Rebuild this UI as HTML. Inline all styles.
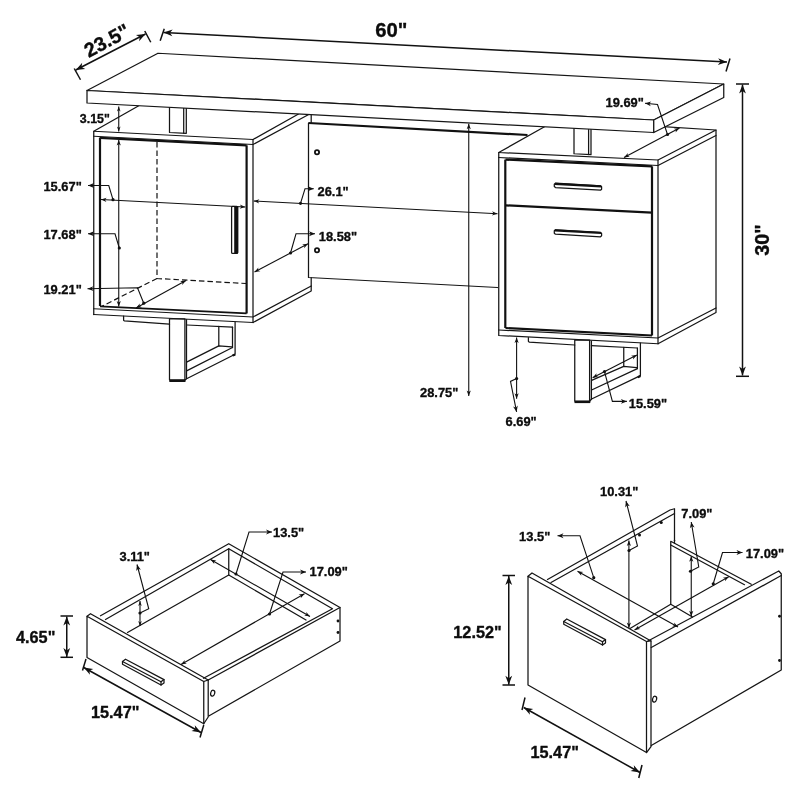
<!DOCTYPE html>
<html><head><meta charset="utf-8"><title>Desk dimensions</title>
<style>
html,body{margin:0;padding:0;background:#fff;}
body{width:800px;height:800px;overflow:hidden;}
svg{display:block;will-change:transform;opacity:0.999;}
svg text{font-family:"Liberation Sans",Arial,Helvetica,sans-serif;font-weight:bold;fill:#0c0c0c;stroke:#0c0c0c;stroke-width:0.35px;stroke-linejoin:round;}
.o{fill:none;stroke:#151515;stroke-width:1.25;stroke-linejoin:round;stroke-linecap:round;}
.w{fill:#fff;stroke:#151515;stroke-width:1.25;stroke-linejoin:round;}
.t{fill:none;stroke:#111;stroke-width:2.2;stroke-linecap:butt;}
.t2{fill:none;stroke:#111;stroke-width:2.2;}
.t15{fill:none;stroke:#111;stroke-width:1.8;}
.d{fill:none;stroke:#111;stroke-width:1.1;}
.D{fill:none;stroke:#111;stroke-width:1.5;}
.h{fill:none;stroke:#111;stroke-width:1.2;stroke-dasharray:5.5 3;}
.ah{fill:#111;stroke:none;}
.hole2{fill:#fff;stroke:#111;stroke-width:1.2;}
.hole{fill:#fff;stroke:#111;stroke-width:1.8;}
</style></head><body>
<svg width="800" height="800" viewBox="0 0 800 800">
<rect x="0" y="0" width="800" height="800" fill="#fff"/>
<path class="o" d="M308.5 123 L308.5 277.5 L497.5 287.5"/>
<path class="t" d="M308.5 123 L527.5 135"/>
<circle class="hole" cx="317" cy="152.2" r="2.1"/>
<circle class="hole" cx="317" cy="250.2" r="2.1"/>
<path class="o" d="M138.75 105.694 L93.75 131.25 L253 139.5 L298.5 114.009"/>
<path class="o" d="M93.75 131.25 L93.75 314.5"/>
<path class="o" d="M93.75 136.25 L253 144.5 L308.7 114.54"/>
<path class="o" d="M253 139.5 L253 322.5"/>
<path class="o" d="M311.2 114.67 L311.2 123.2"/>
<path class="o" d="M311.2 277.7 L311.2 291 L253 322.5 L93.75 314.5"/>
<path class="o" d="M93.75 308.75 L253 317 L311.2 286"/>
<path class="t" d="M100 306 L100 137.5"/>
<path class="t" d="M100 137.8 L246.6 145.3"/>
<path class="t" d="M246.6 145.3 L246.6 313.5"/>
<path class="t15" d="M100 306.3 L246.6 313.3"/>
<rect class="w" x="231.6" y="206.4" width="6.1" height="47" rx="1"/>
<rect class="ah" x="234.2" y="206.4" width="3.9" height="47.2" rx="0.8"/>
<path class="h" d="M157 142 L157 278.5 L246 283.5"/>
<path class="h" d="M157 278.5 L101.5 306.5"/>
<path class="o" d="M169.5 107.294 L169.5 132.5 L186.3 133.3 L186.3 108.169"/>
<line class="o" x1="183.7" y1="108.033" x2="183.7" y2="133.2"/>
<path class="o" d="M123.6 316.1 L123.6 320.2 L124.3 320.9 L169.5 324.2"/>
<path class="o" d="M187 325 L232.5 327.2"/>
<rect class="o" x="169.5" y="318.9" width="15.4" height="60.9"/>
<line class="t" x1="169.3" y1="380.9" x2="185.5" y2="380.9"/>
<path class="o" d="M186.5 319.6 L186.5 378.6"/>
<path class="o" d="M186.6 362.1 L218.8 345.9 L231.8 346.9"/>
<path class="o" d="M186.6 370.9 L232.5 347.5"/>
<path class="o" d="M185 380 L186.6 378.8 L235.1 354.3 L235.1 322"/>
<path class="o" d="M218.8 326.3 L218.8 345.9"/>
<path class="o" d="M232.5 327.2 L232.5 347.5"/>
<line class="t" x1="232.6" y1="355.6" x2="235.2" y2="354.4"/>
<path class="o" d="M544.5 126.813 L498.75 152.5 L658 160 L716 130 L655 126.1"/>
<path class="o" d="M498.75 152.5 L498.75 335.5 L658 343.75 L716 312.5 L716 130"/>
<path class="o" d="M498.75 157.5 L658 165.5 L716 135.5"/>
<path class="o" d="M658 160 L658 343.75"/>
<path class="o" d="M498.75 330 L658 338 L716 308"/>
<path class="t" d="M505.3 159.6 L505.3 328"/>
<path class="t2" d="M505.5 159.6 L652 166.3"/>
<path class="t" d="M652 166.3 L652 335.5"/>
<path class="t2" d="M505.5 205.3 L652 212.7"/>
<path class="t" d="M505.5 328 L652 335.5"/>
<path class="w" d="M555.5 183.2 L600.5 185.8 L601.6 186.8 L601.6 189.2 L600.5 190.2 L555.5 187.6 L554.3 186.6 L554.3 184.2 Z"/>
<path class="t" d="M554.8 183.8 L601.2 186.4"/>
<path class="w" d="M555.5 229.8 L600.5 232.4 L601.6 233.4 L601.6 235.8 L600.5 236.8 L555.5 234.2 L554.3 233.2 L554.3 230.8 Z"/>
<path class="t" d="M554.8 230.4 L601.2 233"/>
<path class="o" d="M574 128.349 L574 153.75 L591 154.6 L591 129.234"/>
<line class="o" x1="588.6" y1="129.109" x2="588.6" y2="154.5"/>
<path class="o" d="M528.4 337.5 L528.4 341.3 L529.2 342.1 L574.75 345"/>
<path class="o" d="M591.4 345.7 L637.4 348"/>
<rect class="o" x="574.75" y="340.1" width="14.85" height="60.9"/>
<line class="t" x1="574.5" y1="402" x2="590.3" y2="402"/>
<path class="o" d="M591.4 341 L591.4 399.2"/>
<path class="o" d="M591.6 380.4 L623.75 366.4 L636.6 367.6"/>
<path class="o" d="M591.6 390 L637.4 368.6"/>
<path class="o" d="M589.8 401 L591.6 399 L640.4 375.6 L640.4 343"/>
<path class="o" d="M623.75 347.3 L623.75 366.4"/>
<path class="o" d="M637.4 348 L637.4 368.6"/>
<line class="t" x1="637.8" y1="377.2" x2="640.5" y2="376"/>
<path class="w" d="M87 90.5 L158 53.25 L723.75 84 L653.75 120 Z"/>
<path class="w" d="M87 90.5 L87 103 L653.75 132.5 L653.75 120 Z"/>
<path class="w" d="M653.75 120 L653.75 132.5 L723.75 97.5 L723.75 84 Z"/>
<line class="D" x1="75.75" y1="70" x2="145.5" y2="34"/>
<polygon class="ah" points="145.50,34.00 139.06,41.15 139.74,36.97 135.94,35.11"/>
<polygon class="ah" points="75.75,70.00 82.19,62.85 81.51,67.03 85.31,68.89"/>
<line class="D" x1="74.25" y1="68.5" x2="80.5" y2="79.75"/>
<line class="D" x1="144.75" y1="31" x2="150.75" y2="42.25"/>
<text transform="translate(110 46.7) rotate(-28) scale(1.0 1)" font-size="20" text-anchor="middle">23.5"</text>
<line class="D" x1="163.5" y1="32.5" x2="727" y2="62"/>
<polygon class="ah" points="727.00,62.00 717.83,64.92 720.53,61.66 718.19,58.13"/>
<polygon class="ah" points="163.50,32.50 172.67,29.58 169.97,32.84 172.31,36.37"/>
<line class="D" x1="164.25" y1="28.75" x2="160.2" y2="40.75"/>
<line class="D" x1="730" y1="58.5" x2="726" y2="71.5"/>
<text transform="translate(375.2 37.2) scale(1.0 1)" font-size="20.3" text-anchor="start">60"</text>
<line class="D" x1="742.5" y1="84.5" x2="742.5" y2="375.5"/>
<polygon class="ah" points="742.50,375.50 739.10,366.50 742.50,369.02 745.90,366.50"/>
<polygon class="ah" points="742.50,84.50 745.90,93.50 742.50,90.98 739.10,93.50"/>
<line class="D" x1="736" y1="84" x2="749" y2="84"/>
<line class="D" x1="736" y1="376.3" x2="749" y2="376.3"/>
<text transform="translate(768.8 240) rotate(-90) scale(1.0 1)" font-size="19.8" text-anchor="middle">30"</text>
<line class="d" x1="118.75" y1="106.5" x2="118.75" y2="131.5"/>
<polygon class="ah" points="118.75,131.50 116.95,126.50 118.75,127.90 120.55,126.50"/>
<polygon class="ah" points="118.75,106.50 120.55,111.50 118.75,110.10 116.95,111.50"/>
<text transform="translate(79.8 122.5) scale(0.955 1)" font-size="13" text-anchor="start">3.15"</text>
<line class="d" x1="118.75" y1="140" x2="118.75" y2="306.5"/>
<polygon class="ah" points="118.75,306.50 116.65,301.00 118.75,302.54 120.85,301.00"/>
<polygon class="ah" points="118.75,140.00 120.85,145.50 118.75,143.96 116.65,145.50"/>
<path class="d" d="M88 233.75 L115 233.75 L119.3 248"/>
<polygon class="ah" points="88.00,233.75 94.00,231.35 92.32,233.75 94.00,236.15"/>
<circle class="ah" cx="119.3" cy="248" r="1.6"/>
<text transform="translate(43.4 238.5) scale(0.955 1)" font-size="13.5" text-anchor="start">17.68"</text>
<line class="d" x1="101" y1="199.5" x2="245.3" y2="207"/>
<polygon class="ah" points="245.30,207.00 239.70,208.81 241.35,206.79 239.92,204.62"/>
<polygon class="ah" points="101.00,199.50 106.60,197.69 104.95,199.71 106.38,201.88"/>
<path class="d" d="M88 185.5 L108.75 185.5 L113 199.7"/>
<polygon class="ah" points="88.00,185.50 94.00,183.10 92.32,185.50 94.00,187.90"/>
<circle class="ah" cx="113" cy="199.7" r="1.6"/>
<text transform="translate(43.4 190.5) scale(0.955 1)" font-size="13.5" text-anchor="start">15.67"</text>
<line class="d" x1="136" y1="308" x2="186" y2="280.5"/>
<polygon class="ah" points="186.00,280.50 182.19,284.99 182.53,282.41 180.17,281.31"/>
<polygon class="ah" points="136.00,308.00 139.81,303.51 139.47,306.09 141.83,307.19"/>
<path class="d" d="M87.5 288.7 L137.5 287.7 L143.75 303.2"/>
<polygon class="ah" points="87.50,288.70 93.45,286.18 91.82,288.61 93.55,290.98"/>
<circle class="ah" cx="143.75" cy="303.2" r="1.6"/>
<text transform="translate(43.4 294) scale(0.955 1)" font-size="13.5" text-anchor="start">19.21"</text>
<line class="d" x1="253.75" y1="201" x2="497.5" y2="213.75"/>
<polygon class="ah" points="497.50,213.75 491.90,215.56 493.55,213.54 492.12,211.37"/>
<polygon class="ah" points="253.75,201.00 259.35,199.19 257.70,201.21 259.13,203.38"/>
<path class="d" d="M313.75 188.75 L305 188.75 L300.5 203.3"/>
<polygon class="ah" points="313.75,188.75 307.75,191.15 309.43,188.75 307.75,186.35"/>
<circle class="ah" cx="300.5" cy="203.3" r="1.6"/>
<text transform="translate(317.5 196) scale(0.955 1)" font-size="13.5" text-anchor="start">26.1"</text>
<line class="d" x1="254.5" y1="272" x2="308" y2="243.75"/>
<polygon class="ah" points="308.00,243.75 304.12,248.18 304.50,245.60 302.16,244.46"/>
<polygon class="ah" points="254.50,272.00 258.38,267.57 258.00,270.15 260.34,271.29"/>
<path class="d" d="M315 233.75 L296 233.75 L290.5 253"/>
<polygon class="ah" points="315.00,233.75 309.00,236.15 310.68,233.75 309.00,231.35"/>
<circle class="ah" cx="290.5" cy="253" r="1.6"/>
<text transform="translate(318.75 241) scale(0.955 1)" font-size="13.5" text-anchor="start">18.58"</text>
<line class="d" x1="624" y1="157.5" x2="679.5" y2="128"/>
<polygon class="ah" points="679.50,128.00 675.63,132.44 676.00,129.86 673.66,128.73"/>
<polygon class="ah" points="624.00,157.50 627.87,153.06 627.50,155.64 629.84,156.77"/>
<path class="d" d="M645 103.3 L657.5 104.5 L667.5 134.5"/>
<polygon class="ah" points="645.00,103.30 651.20,101.48 649.30,103.71 650.74,106.26"/>
<circle class="ah" cx="667.5" cy="134.5" r="1.6"/>
<text transform="translate(605.5 107) scale(0.955 1)" font-size="13.5" text-anchor="start">19.69"</text>
<line class="d" x1="468.75" y1="123.75" x2="468.75" y2="396"/>
<polygon class="ah" points="468.75,396.00 466.65,390.50 468.75,392.04 470.85,390.50"/>
<polygon class="ah" points="468.75,123.75 470.85,129.25 468.75,127.71 466.65,129.25"/>
<text transform="translate(420 396.7) scale(0.955 1)" font-size="13.5" text-anchor="start">28.75"</text>
<line class="d" x1="516.6" y1="337.5" x2="516.6" y2="398.75"/>
<polygon class="ah" points="516.60,398.75 514.50,393.25 516.60,394.79 518.70,393.25"/>
<polygon class="ah" points="516.60,337.50 518.70,343.00 516.60,341.46 514.50,343.00"/>
<path class="d" d="M516.6 411.9 L510.5 381.4 L516.6 378.6"/>
<polygon class="ah" points="516.60,411.90 513.07,406.49 515.75,407.66 517.78,405.55"/>
<circle class="ah" cx="516.6" cy="378.6" r="1.6"/>
<text transform="translate(505.5 426) scale(0.955 1)" font-size="13.5" text-anchor="start">6.69"</text>
<line class="d" x1="592.6" y1="377.75" x2="636.9" y2="355"/>
<polygon class="ah" points="636.90,355.00 632.97,359.38 633.38,356.81 631.05,355.64"/>
<polygon class="ah" points="592.60,377.75 596.53,373.37 596.12,375.94 598.45,377.11"/>
<path class="d" d="M626.9 401.4 L612.4 401.4 L604.5 371.6"/>
<polygon class="ah" points="626.90,401.40 620.90,403.80 622.58,401.40 620.90,399.00"/>
<circle class="ah" cx="604.5" cy="371.6" r="1.6"/>
<text transform="translate(628.75 408) scale(0.955 1)" font-size="13.5" text-anchor="start">15.59"</text>
<path class="o" d="M100.5 615.8 L228.75 543.75 L340 607.5 L340 641 L208.75 716"/>
<path class="o" d="M105.5 619.5 L228.75 548.75 L332.5 608.75 L203.5 678.3"/>
<path class="o" d="M340 607.5 L208.2 680"/>
<path class="o" d="M228.75 548.75 L228.75 575"/>
<path class="o" d="M127.5 632.5 L228.75 575 L306 620"/>
<path class="w" d="M87 616.25 L203.75 681.5 L203.75 723.75 L87 657.5 Z"/>
<path class="o" d="M87 616.25 L90.5 613.75 L208.2 680 L208.2 717 L203.75 723.75"/>
<path class="o" d="M203.75 681.5 L208.2 680"/>
<path class="w" d="M122.5 661.5 L125.5 659.2 L164 679.6 L164 683 L161 685 L122.5 664.3 Z"/>
<path class="o" d="M122.5 661.5 L161 681.8 L164 679.6"/>
<path class="o" d="M161 681.8 L161 685"/>
<ellipse class="hole2" cx="212.7" cy="693.2" rx="2" ry="3" transform="rotate(15 212.7 693.2)"/>
<circle class="ah" cx="338" cy="621" r="1.4"/>
<circle class="ah" cx="338" cy="632.5" r="1.4"/>
<line class="D" x1="66.75" y1="616.5" x2="66.75" y2="657"/>
<polygon class="ah" points="66.75,657.00 63.35,648.00 66.75,650.52 70.15,648.00"/>
<polygon class="ah" points="66.75,616.50 70.15,625.50 66.75,622.98 63.35,625.50"/>
<line class="D" x1="60.5" y1="616" x2="73" y2="616"/>
<line class="D" x1="60.5" y1="657.3" x2="73" y2="657.3"/>
<text transform="translate(16 642.5) scale(0.98 1)" font-size="16.6" text-anchor="start">4.65"</text>
<line class="D" x1="83.75" y1="667.5" x2="201" y2="732.5"/>
<polygon class="ah" points="201.00,732.50 191.48,731.11 195.33,729.36 194.78,725.16"/>
<polygon class="ah" points="83.75,667.50 93.27,668.89 89.42,670.64 89.97,674.84"/>
<line class="D" x1="86" y1="659" x2="82.5" y2="670.5"/>
<line class="D" x1="203.75" y1="725" x2="200" y2="737.5"/>
<text transform="translate(91 718) scale(0.98 1)" font-size="16.6" text-anchor="start">15.47"</text>
<line class="d" x1="140" y1="601" x2="140" y2="626"/>
<polygon class="ah" points="140.00,626.00 138.20,621.00 140.00,622.40 141.80,621.00"/>
<polygon class="ah" points="140.00,601.00 141.80,606.00 140.00,604.60 138.20,606.00"/>
<path class="d" d="M137 564.5 L148.75 608.75 L140 613"/>
<polygon class="ah" points="137.00,564.50 140.86,569.68 138.11,568.68 136.22,570.91"/>
<circle class="ah" cx="140" cy="613" r="1.6"/>
<text transform="translate(119.5 561) scale(0.955 1)" font-size="13.5" text-anchor="start">3.11"</text>
<line class="d" x1="210.5" y1="559.5" x2="310" y2="616.5"/>
<polygon class="ah" points="310.00,616.50 304.18,615.59 306.56,614.53 306.27,611.94"/>
<polygon class="ah" points="210.50,559.50 216.32,560.41 213.94,561.47 214.23,564.06"/>
<path class="d" d="M272 532 L249 532 L236 574"/>
<polygon class="ah" points="272.00,532.00 266.00,534.40 267.68,532.00 266.00,529.60"/>
<circle class="ah" cx="236" cy="574" r="1.6"/>
<text transform="translate(273 537) scale(0.955 1)" font-size="13.5" text-anchor="start">13.5"</text>
<line class="d" x1="181" y1="664.5" x2="304.5" y2="593.7"/>
<polygon class="ah" points="304.50,593.70 300.77,598.26 301.06,595.67 298.68,594.61"/>
<polygon class="ah" points="181.00,664.50 184.73,659.94 184.44,662.53 186.82,663.59"/>
<path class="d" d="M306 572 L283 572 L269.5 614"/>
<polygon class="ah" points="306.00,572.00 300.00,574.40 301.68,572.00 300.00,569.60"/>
<circle class="ah" cx="269.5" cy="614" r="1.6"/>
<text transform="translate(309.5 575.75) scale(0.955 1)" font-size="13.5" text-anchor="start">17.09"</text>
<path class="o" d="M547.5 579.5 L670 510 L674.5 508.75 L674.5 540.3"/>
<path class="o" d="M551 582.5 L674.5 513.5"/>
<path class="o" d="M670.75 603.75 L670.75 541.25 L751.25 584.25"/>
<path class="o" d="M670.75 545 L744.5 584.7"/>
<path class="o" d="M674.5 540.3 L674.5 543.2"/>
<path class="o" d="M630 628.5 L670.75 604.3 L692.5 617"/>
<path class="o" d="M647.5 641.3 L778.75 571 L781.25 573.75 L781.25 670 L651.25 745.5"/>
<path class="o" d="M651.25 647.5 L781.25 575.5"/>
<path class="w" d="M528 576.25 L646.5 641.5 L646.5 752.5 L528 685 Z"/>
<path class="o" d="M528 576.25 L532 573 L651 641 L651 746.5 L646.5 752.5"/>
<path class="o" d="M646.5 641.5 L651 641"/>
<path class="w" d="M563.75 621.5 L566.75 619 L605.5 639.6 L605.5 643 L602.5 645 L563.75 624.3 Z"/>
<path class="o" d="M563.75 621.5 L602.5 641.8 L605.5 639.6"/>
<path class="o" d="M602.5 641.8 L602.5 645"/>
<ellipse class="hole2" cx="654.6" cy="699.2" rx="2" ry="3" transform="rotate(15 654.6 699.2)"/>
<circle class="ah" cx="639.5" cy="535" r="1.5"/>
<circle class="ah" cx="661.25" cy="522.5" r="1.5"/>
<circle class="ah" cx="779.5" cy="616.25" r="1.4"/>
<circle class="ah" cx="779.5" cy="660.5" r="1.4"/>
<line class="D" x1="508.75" y1="576" x2="508.75" y2="684.7"/>
<polygon class="ah" points="508.75,684.70 505.35,675.70 508.75,678.22 512.15,675.70"/>
<polygon class="ah" points="508.75,576.00 512.15,585.00 508.75,582.48 505.35,585.00"/>
<line class="D" x1="502.5" y1="575.5" x2="515" y2="575.5"/>
<line class="D" x1="502.5" y1="685" x2="515" y2="685"/>
<text transform="translate(453.3 637.5) scale(0.98 1)" font-size="16.6" text-anchor="start">12.52"</text>
<line class="D" x1="523.75" y1="707.5" x2="640" y2="772.5"/>
<polygon class="ah" points="640.00,772.50 630.49,771.08 634.34,769.34 633.80,765.14"/>
<polygon class="ah" points="523.75,707.50 533.26,708.92 529.41,710.66 529.95,714.86"/>
<line class="D" x1="525" y1="697.5" x2="522" y2="710"/>
<line class="D" x1="642" y1="765" x2="638.75" y2="778"/>
<text transform="translate(530.5 758) scale(0.98 1)" font-size="16.6" text-anchor="start">15.47"</text>
<line class="d" x1="628.9" y1="540.5" x2="628.9" y2="628"/>
<polygon class="ah" points="628.90,628.00 626.80,622.50 628.90,624.04 631.00,622.50"/>
<polygon class="ah" points="628.90,540.50 631.00,546.00 628.90,544.46 626.80,546.00"/>
<path class="d" d="M626 501 L637.5 546 L629 550.5"/>
<polygon class="ah" points="626.00,501.00 629.81,506.22 627.07,505.19 625.16,507.41"/>
<circle class="ah" cx="629" cy="550.5" r="1.6"/>
<text transform="translate(600 496) scale(0.955 1)" font-size="13.5" text-anchor="start">10.31"</text>
<line class="d" x1="577.5" y1="571.2" x2="678" y2="627"/>
<polygon class="ah" points="678.00,627.00 672.17,626.17 674.54,625.08 674.21,622.49"/>
<polygon class="ah" points="577.50,571.20 583.33,572.03 580.96,573.12 581.29,575.71"/>
<path class="d" d="M557.5 535.75 L580 535.75 L593.75 577.7"/>
<polygon class="ah" points="557.50,535.75 563.50,533.35 561.82,535.75 563.50,538.15"/>
<circle class="ah" cx="593.75" cy="577.7" r="1.6"/>
<text transform="translate(519.1 541.3) scale(0.955 1)" font-size="13.5" text-anchor="start">13.5"</text>
<line class="d" x1="691.25" y1="556.25" x2="691.25" y2="616.25"/>
<polygon class="ah" points="691.25,616.25 689.15,610.75 691.25,612.29 693.35,610.75"/>
<polygon class="ah" points="691.25,556.25 693.35,561.75 691.25,560.21 689.15,561.75"/>
<path class="d" d="M691.25 522 L698.75 567 L690.5 571.25"/>
<polygon class="ah" points="691.25,522.00 694.60,527.52 691.96,526.26 689.87,528.31"/>
<circle class="ah" cx="690.5" cy="571.25" r="1.6"/>
<text transform="translate(681.25 517.5) scale(0.955 1)" font-size="13.5" text-anchor="start">7.09"</text>
<line class="d" x1="634.5" y1="630" x2="728.75" y2="576.75"/>
<polygon class="ah" points="728.75,576.75 724.99,581.28 725.30,578.70 722.93,577.63"/>
<polygon class="ah" points="634.50,630.00 638.26,625.47 637.95,628.05 640.32,629.12"/>
<path class="d" d="M742.5 552.5 L722.5 552.5 L713.25 583.75"/>
<polygon class="ah" points="742.50,552.50 736.50,554.90 738.18,552.50 736.50,550.10"/>
<circle class="ah" cx="713.25" cy="583.75" r="1.6"/>
<text transform="translate(745.75 557.5) scale(0.955 1)" font-size="13.5" text-anchor="start">17.09"</text>
</svg>
</body></html>
